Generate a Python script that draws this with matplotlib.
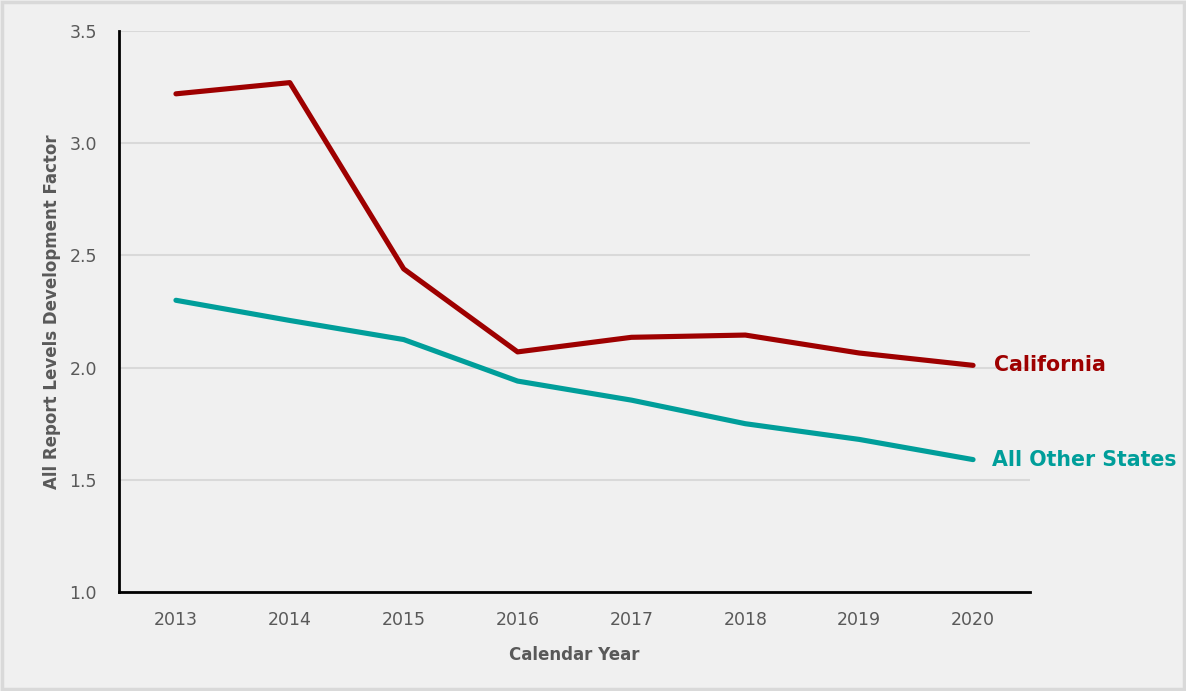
import matplotlib.pyplot as plt
from matplotlib.patches import Rectangle

years = [2013, 2014, 2015, 2016, 2017, 2018, 2019, 2020]
california = [3.22, 3.27, 2.44, 2.07, 2.135, 2.145, 2.065, 2.01]
other_states = [2.30, 2.21, 2.125, 1.94, 1.855, 1.75, 1.68, 1.59]
y_ticks = [1.0, 1.5, 2.0, 2.5, 3.0, 3.5]

bg = "#f0f0f0"
red = "#9e0000"
teal = "#009e9a"
grey_txt = "#595959"

fig = plt.figure(figsize=(11.86, 6.91), dpi=100, facecolor=bg)
ax = fig.add_axes([119 / 1186, 1 - 592 / 691, (1030 - 119) / 1186, (592 - 31) / 691])
ax.set_facecolor(bg)

# outer border
fig.patches.append(Rectangle((0.002, 0.003), 0.996, 0.994, transform=fig.transFigure,
                             fill=False, edgecolor="#d9d9d9", linewidth=2.5))

ax.plot(years, california, color=red, linewidth=3.7, solid_capstyle="round", zorder=3)
ax.plot(years, other_states, color=teal, linewidth=3.7, solid_capstyle="round", zorder=3)

ax.text(years[-1] + 0.18, california[-1], "California", color=red, fontsize=14.8,
        fontweight="bold", va="center", ha="left", clip_on=False)
ax.text(years[-1] + 0.17, other_states[-1], "All Other States", color=teal, fontsize=14.8,
        fontweight="bold", va="center", ha="left", clip_on=False)

ax.set_xlim(2012.5, 2020.5)
ax.set_ylim(1.0, 3.5)
ax.set_xticks(years)
ax.set_yticks(y_ticks)
ax.set_yticklabels([f"{v:.1f}" for v in y_ticks])
ax.yaxis.grid(True, color="#d9d9d9", linewidth=1.5)
ax.set_axisbelow(True)

for s in ["top", "right"]:
    ax.spines[s].set_visible(False)
for s in ["left", "bottom"]:
    ax.spines[s].set_color("black")
    ax.spines[s].set_linewidth(2)

ax.tick_params(axis="both", length=0, labelsize=12.5, labelcolor=grey_txt)
ax.tick_params(axis="x", pad=14)
ax.tick_params(axis="y", pad=16)

ax.set_xlabel("Calendar Year", fontsize=12, fontweight="bold", color=grey_txt, labelpad=12)
ax.set_ylabel("All Report Levels Development Factor", fontsize=12, fontweight="bold",
              color=grey_txt, labelpad=6)

plt.savefig("out.png", dpi=100, facecolor=bg)
